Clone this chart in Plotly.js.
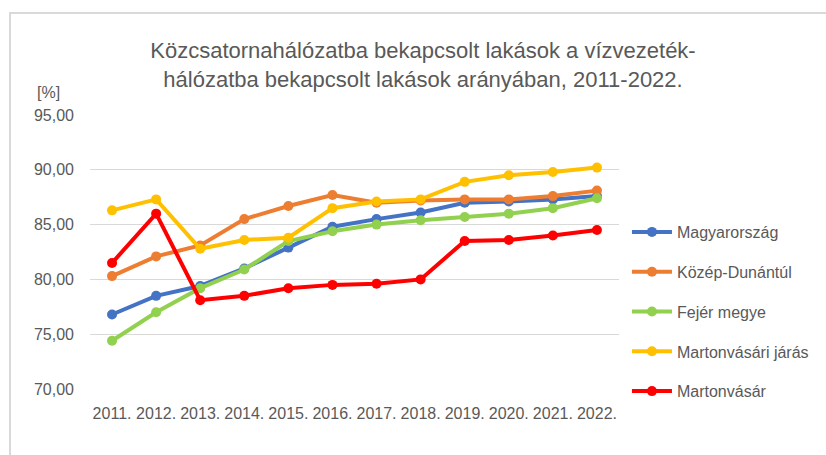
<!DOCTYPE html>
<html>
<head>
<meta charset="utf-8">
<script src="https://cdn.plot.ly/plotly-3.0.1.min.js"></script>
<style>
  html, body { margin: 0; padding: 0; background: #ffffff; }
  #wrap { position: relative; width: 826px; height: 455px; overflow: hidden; }
  #chart { position: absolute; left: 0; top: 0; width: 826px; height: 455px; }
  #frame { position: absolute; left: 9px; top: 12px; width: 830px; height: 460px;
           border-left: 2px solid #d9d9d9; border-top: 2px solid #d9d9d9; pointer-events: none; }
</style>
</head>
<body>
<div id="wrap">
  <div id="chart"></div>
  <div id="frame"></div>
</div>
<script>
const years = ["2011.", "2012.", "2013.", "2014.", "2015.", "2016.", "2017.", "2018.", "2019.", "2020.", "2021.", "2022."];

const magyarorszag   = [76.8, 78.5, 79.4, 81.0, 82.9, 84.8, 85.5, 86.1, 87.0, 87.1, 87.3, 87.6];
const kozepDunantul  = [80.3, 82.1, 83.1, 85.5, 86.7, 87.7, 87.0, 87.2, 87.3, 87.3, 87.6, 88.1];
const fejerMegye     = [74.4, 77.0, 79.2, 80.9, 83.5, 84.4, 85.0, 85.4, 85.7, 86.0, 86.5, 87.4];
const martonvasariJaras = [86.3, 87.3, 82.8, 83.6, 83.8, 86.5, 87.1, 87.3, 88.9, 89.5, 89.8, 90.2];
const martonvasar    = [81.5, 86.0, 78.1, 78.5, 79.2, 79.5, 79.6, 80.0, 83.5, 83.6, 84.0, 84.5];

const seriesNames  = ["Magyarország", "Közép-Dunántúl", "Fejér megye", "Martonvásári járás", "Martonvásár"];
const seriesValues = [magyarorszag, kozepDunantul, fejerMegye, martonvasariJaras, martonvasar];
const seriesColors = ["#4472C4", "#ED7D31", "#92D050", "#FFC000", "#FF0000"];

const FONT = "Liberation Sans, Arial, sans-serif";
const GREY = "#595959";

const traces = seriesNames.map((name, i) => ({
  type: "scatter",
  mode: "lines+markers",
  name: name,
  legendgroup: "g" + i,
  x: years,
  y: seriesValues[i],
  line: { color: seriesColors[i], width: 4 },
  marker: { color: seriesColors[i], size: 10 },
  cliponaxis: false
}));

const layout = {
  width: 826,
  height: 455,
  paper_bgcolor: "#ffffff",
  plot_bgcolor: "#ffffff",
  separators: ", ",
  margin: { l: 90, r: 204, t: 115, b: 66 },
  font: { family: FONT, color: GREY, size: 14 },
  title: {
    text: "Közcsatornahálózatba bekapcsolt lakások a vízvezeték-<br>hálózatba bekapcsolt lakások arányában, 2011-2022.",
    font: { family: FONT, size: 22, color: GREY },
    xref: "container", x: 423 / 826, xanchor: "center",
    yref: "container", y: 1 - 58 / 455, yanchor: "middle"
  },
  xaxis: {
    type: "category",
    showgrid: false,
    zeroline: false,
    showline: false,
    ticks: "",
    tickangle: 0,
    ticklabelstandoff: 13,
    tickfont: { family: FONT, size: 16, color: GREY },
    range: [-0.5, 11.5]
  },
  yaxis: {
    range: [70, 95],
    dtick: 5,
    tick0: 70,
    tickformat: ".2f",
    showgrid: true,
    gridcolor: "#d9d9d9",
    gridwidth: 1,
    zeroline: false,
    showline: false,
    ticks: "",
    ticklabelstandoff: 15,
    tickfont: { family: FONT, size: 16, color: GREY }
  },
  showlegend: true,
  legend: {
    x: (630 - 90) / 532,
    xanchor: "left",
    y: 0.635,
    yanchor: "top",
    font: { family: FONT, size: 16, color: GREY },
    tracegroupgap: 16,
    itemwidth: 40,
    bgcolor: "rgba(0,0,0,0)"
  },
  annotations: [{
    text: "[%]",
    xref: "paper", yref: "paper",
    x: (48 - 90) / 532, y: (389 - 92) / 274,
    xanchor: "center", yanchor: "middle",
    showarrow: false,
    font: { family: FONT, size: 16, color: GREY }
  }]
};

Plotly.newPlot("chart", traces, layout, { displayModeBar: false, staticPlot: true });
</script>
</body>
</html>
